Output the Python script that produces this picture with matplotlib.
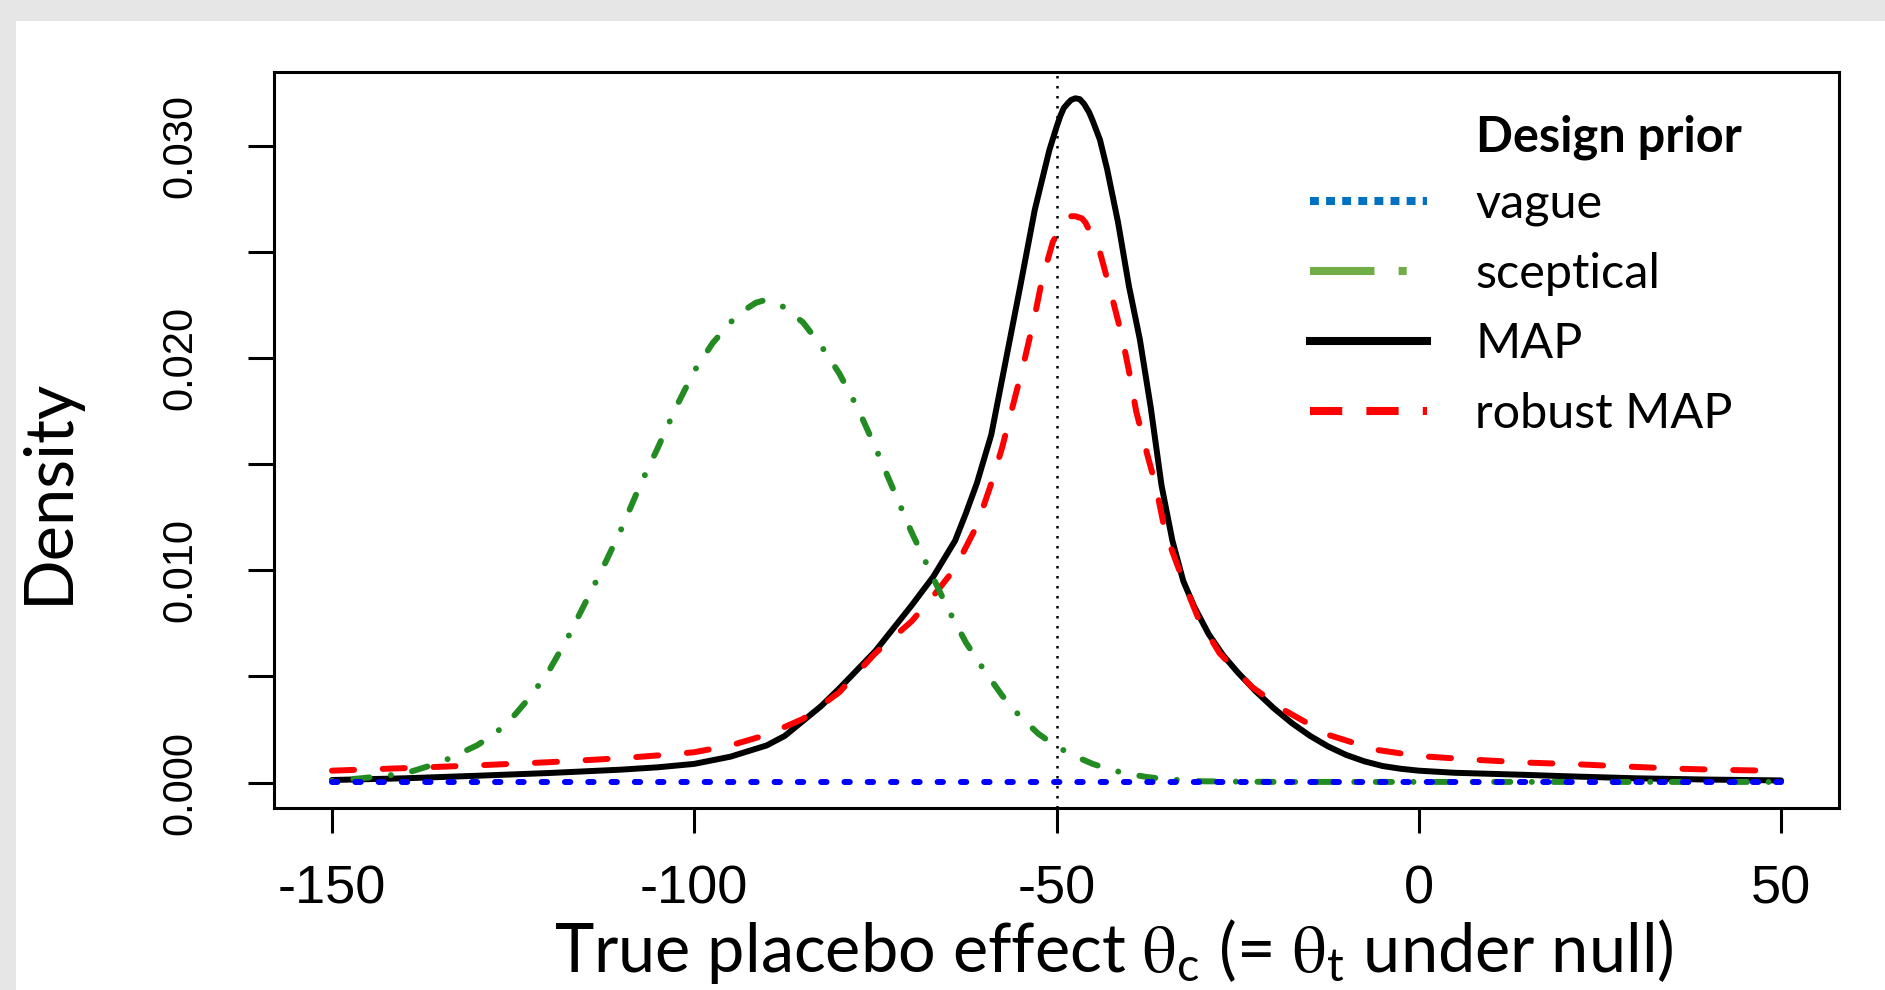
import matplotlib
matplotlib.use("Agg")
import matplotlib.pyplot as plt
from matplotlib.patches import Rectangle
from matplotlib.lines import Line2D

# ---------------- data ----------------
x_map = [-150, -140, -130, -120, -110, -105, -100, -95, -90, -87.5, -85, -82.5, -80, -75, -70,
         -67, -64, -62.5, -61, -59, -57, -55, -53, -51, -50, -49.5, -49, -48.5, -48, -47.4,
         -46.8, -46.2, -45.5, -45, -44, -43, -41.5, -40, -38.5, -37, -35.5, -34, -32.5, -31,
         -29, -27, -25, -22.5, -20, -17.5, -15, -12.5, -10, -7.5, -5, -2.5, 0, 5, 10, 15, 20,
         30, 40, 50]
d_map = [0.00012, 0.00020, 0.00032, 0.00045, 0.00061, 0.00072, 0.00088, 0.00122, 0.00175, 0.0022,
         0.0029, 0.0036, 0.00443, 0.0062, 0.00835, 0.00971, 0.0114, 0.0127, 0.0141, 0.0164,
         0.0199, 0.0234, 0.0270, 0.0298, 0.0309, 0.0314, 0.0318, 0.0320, 0.03218, 0.03226,
         0.03222, 0.0320, 0.0316, 0.0312, 0.0303, 0.0289, 0.0264, 0.0234, 0.0209, 0.0177,
         0.0140, 0.0114, 0.0095, 0.0083, 0.0070, 0.0060, 0.0052, 0.0043, 0.0035, 0.0028,
         0.0022, 0.0017, 0.0013, 0.00100, 0.00078, 0.00065, 0.00056, 0.00046, 0.00041, 0.00036,
         0.00030, 0.00020, 0.00014, 0.00010]

x_rob = [-150, -140, -130, -120, -110, -105, -100, -95, -90, -85, -80, -75, -70, -67, -64,
         -61, -59, -57.5, -56, -54.5, -53, -52, -50.5, -49, -48, -47.4, -46.5, -46, -44, -42.5,
         -41, -40, -39, -37.5, -36.3, -35, -32.5, -30.5, -27.5, -23, -18.5, -12.5, -6, 0, 8,
         15, 22, 29, 36, 43, 50]
d_rob = [0.00056, 0.00068, 0.00081, 0.00096, 0.00115, 0.00128, 0.00143, 0.00175, 0.00225, 0.00300,
         0.00425, 0.0061, 0.0076, 0.0088, 0.0101, 0.0121, 0.0141, 0.0158, 0.0178, 0.0198,
         0.0220, 0.0237, 0.0255, 0.0264, 0.0267, 0.0267, 0.0266, 0.0264, 0.0250, 0.0231,
         0.0211, 0.0194, 0.0175, 0.0155, 0.0140, 0.0118, 0.0095, 0.0078, 0.0061, 0.0045,
         0.0034, 0.00225, 0.00155, 0.00125, 0.00107, 0.00094, 0.00086, 0.00075, 0.00065, 0.00059,
         0.00055]

x_scep = [-150, -146, -140, -135, -130, -127.5, -125, -122.5, -120, -117.5, -115, -112.5, -110,
          -107.5, -105, -102.5, -100, -97.5, -95, -92.5, -91.5, -90.5, -89.5, -88, -85, -82.5,
          -80, -77.5, -75, -72.5, -70, -67.5, -65, -62.5, -60, -57.5, -55, -52.5, -50, -47.5,
          -45, -42.5, -40, -37.5, -35, -30, -20, 0, 50]
d_scep = [0.00008, 0.0002, 0.00042, 0.00095, 0.00175, 0.0023, 0.0031, 0.0041, 0.0053, 0.0068,
          0.0085, 0.0102, 0.0120, 0.0140, 0.0158, 0.0177, 0.0194, 0.0207, 0.0217, 0.0224,
          0.02262, 0.02272, 0.0227, 0.0225, 0.0217, 0.0206, 0.0193, 0.0177, 0.0158, 0.0138,
          0.0118, 0.0100, 0.0082, 0.0066, 0.0053, 0.0041, 0.0031, 0.0023, 0.00170, 0.00125,
          0.00088, 0.00060, 0.00040, 0.00026, 0.00016, 0.00006, 0.00003, 0.00003, 0.00003]

x_vague = [-150, -100, -50, 0, 50]
d_vague = [0.00004, 0.00004, 0.00004, 0.00004, 0.00004]

null_value = -50
x_ticks = [-150, -100, -50, 0, 50]
y_ticks = [0.000, 0.005, 0.010, 0.015, 0.020, 0.025, 0.030]
y_ticklabels = ["0.000", "", "0.010", "", "0.020", "", "0.030"]
legend_title = "Design prior"
legend_labels = ["vague", "sceptical", "MAP", "robust MAP"]
x_label = (r"True placebo effect $\mathrm{\theta}_{\mathregular{c}}$ "
           r"(= $\mathrm{\theta}_{\mathregular{t}}$ under null)")
y_label = "Density"

# ---------------- figure ----------------
plt.rcParams["mathtext.fontset"] = "stix"
W, H = 1885, 990
fig = plt.figure(figsize=(W / 100, H / 100), dpi=100)
fig.patch.set_facecolor("#e6e6e6")
fig.add_artist(Rectangle((16 / W, 0), 1 - 16 / W, 1 - 21 / H, transform=fig.transFigure,
                         facecolor="white", edgecolor="none", zorder=0))

ax = fig.add_axes([274 / W, 1 - 808 / H, (1839 - 274) / W, (808 - 72) / H])
ax.set_facecolor("white")

lw = 4.3
ax.plot(x_map, d_map, color="black", lw=lw, solid_capstyle="round", solid_joinstyle="round", zorder=3)
ax.plot(x_rob, d_rob, color="#ff0000", lw=lw, dashes=(3.7, 4.8), dash_capstyle="round", zorder=4)
ax.plot(x_scep, d_scep, color="#228b22", lw=lw, dashes=(0.01, 3.6, 2.7, 3.6), dash_capstyle="round", zorder=5)
ax.plot(x_vague, d_vague, color="#0000ff", lw=lw, dashes=(0.9, 3.0), dash_capstyle="round", zorder=6)
ax.axvline(null_value, color="black", lw=1.8, linestyle=(0, (1, 3)), zorder=7)

ax.set_xlim(-158, 58)
ax.set_ylim(-0.0012, 0.0335)
for s in ax.spines.values():
    s.set_linewidth(2.2)

ax.set_xticks(x_ticks)
ax.set_xticklabels([str(v) for v in x_ticks], family=["Liberation Sans", "DejaVu Sans"], fontsize=39)
ax.set_yticks(y_ticks)
ax.set_yticklabels(y_ticklabels, rotation=90, va="center",
                   family=["Liberation Sans", "DejaVu Sans"], fontsize=30)
ax.tick_params(axis="x", length=18, width=2.2, pad=22.5)
ax.tick_params(axis="y", length=19, width=2.2, pad=34)

fig.text(49 / W, 1 - 491 / H, y_label, rotation=90, ha="center", va="center",
         family=["Lato", "DejaVu Sans"], fontsize=48)
fig.text(1114 / W, 1 - 972 / H, x_label, ha="center", va="baseline",
         family=["Lato", "DejaVu Sans"], fontsize=48)

# legend (PowerPoint-style overlay)
handles = [
    Line2D([], [], color="#0070c0", lw=5.8, dashes=(1.1, 0.9)),
    Line2D([], [], color="#70ad47", lw=5.8, dashes=(8, 3, 1, 3)),
    Line2D([], [], color="black", lw=5.8),
    Line2D([], [], color="#ff0000", lw=5.8, dashes=(4, 3)),
]
leg = ax.legend(handles, legend_labels, loc="upper left",
                bbox_to_anchor=(1310 / W, 1 - 182 / H), bbox_transform=fig.transFigure,
                frameon=False, borderpad=0, borderaxespad=0, handlelength=2.4,
                handletextpad=1.0, labelspacing=0.53,
                prop={"family": ["Lato", "DejaVu Sans"], "size": 35})
fig.text(1476 / W, 1 - 137 / H, legend_title, ha="left", va="center",
         family=["Lato", "DejaVu Sans"], fontsize=35, fontweight="bold")

fig.savefig("out.png", dpi=100, facecolor=fig.get_facecolor())
